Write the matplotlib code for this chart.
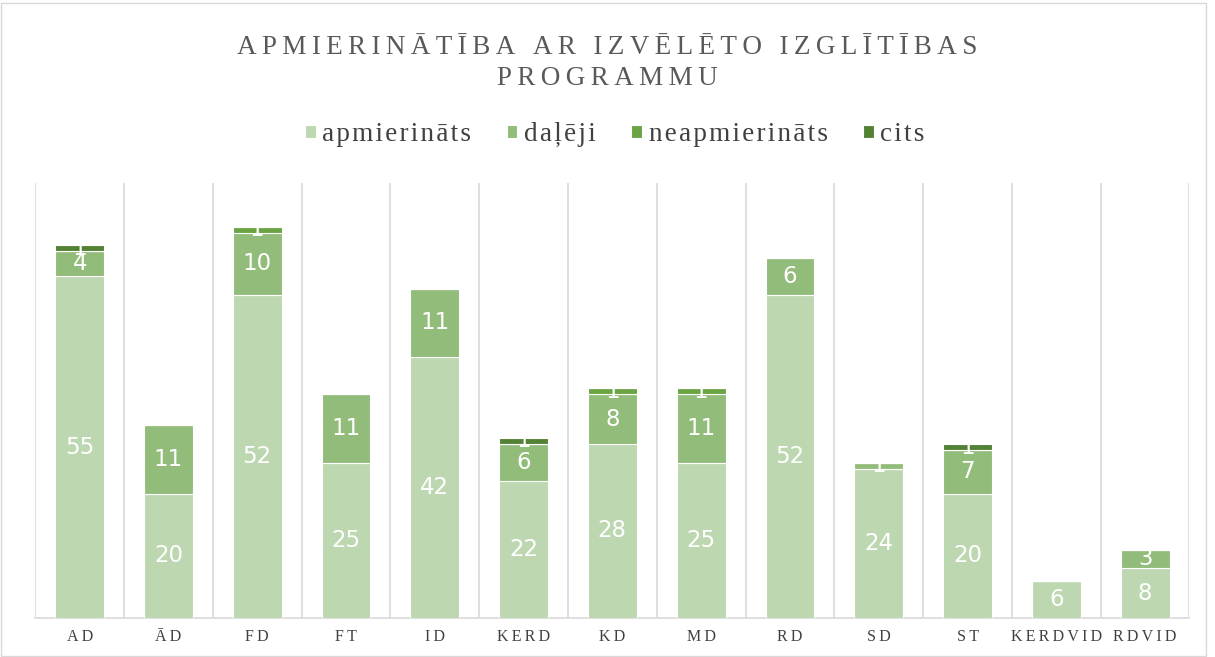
import matplotlib
matplotlib.use("Agg")
import matplotlib.pyplot as plt
import numpy as np
from matplotlib.patches import Rectangle

categories = ["AD", "ĀD", "FD", "FT", "ID", "KERD", "KD", "MD", "RD", "SD", "ST", "KERDVID", "RDVID"]
apmierinats = [55, 20, 52, 25, 42, 22, 28, 25, 52, 24, 20, 6, 8]
daleji = [4, 11, 10, 11, 11, 6, 8, 11, 6, 1, 7, 0, 3]
neapmierinats = [0, 0, 1, 0, 0, 0, 1, 1, 0, 0, 0, 0, 0]
cits = [1, 0, 0, 0, 0, 1, 0, 0, 0, 0, 1, 0, 0]
series_names = ["apmierināts", "daļēji", "neapmierināts", "cits"]
title_lines = ["APMIERINĀTĪBA AR IZVĒLĒTO IZGLĪTĪBAS", "PROGRAMMU"]
colors = ["#BDD7B1", "#92BC79", "#6BA543", "#548235"]

SERIF = ["Liberation Serif", "DejaVu Serif"]


def spaced(s, sep="\u2009"):
    return sep.join(s)


fig = plt.figure(figsize=(12.15, 6.57), dpi=100)
ax = fig.add_axes([0.029, 0.0594, 0.950, 0.662])

x = np.arange(len(categories))
bottom = np.zeros(len(categories))
handles = []
for vals, name, col in zip([apmierinats, daleji, neapmierinats, cits], series_names, colors):
    vals = np.array(vals, dtype=float)
    bars = ax.bar(x, vals, 0.55, bottom=bottom, color=col, edgecolor="white", linewidth=0.8, label=name, zorder=3)
    handles.append(bars)
    for xi, v, b in zip(x, vals, bottom):
        if v > 0:
            ax.text(xi, b + v / 2, f"{int(v)}", ha="center", va="center", color="white",
                    fontsize=16.5, family="DejaVu Sans", zorder=5)
    bottom += vals

ax.set_xlim(-0.5, len(categories) - 0.5)
ax.set_ylim(0, 70)
ax.set_yticks([])
ax.set_xticks(x)
ax.set_xticklabels([spaced(c) for c in categories], family=SERIF, fontsize=11.5, color="#404040")
ax.tick_params(axis="x", length=0, pad=8)
ax.set_xticks(np.arange(-0.5, len(categories)), minor=True)
ax.tick_params(axis="x", which="minor", length=0)
ax.grid(axis="x", which="minor", color="#D9D9D9", linewidth=1.2, zorder=0)
for s in ["top", "right", "left"]:
    ax.spines[s].set_visible(False)
ax.spines["bottom"].set_color("#D9D9D9")
ax.spines["bottom"].set_linewidth(1.2)

fig.text(0.5, 0.928, spaced(title_lines[0]), ha="center", va="center", family=SERIF, fontsize=19.5, color="#595959")
fig.text(0.5, 0.881, spaced(title_lines[1]), ha="center", va="center", family=SERIF, fontsize=19.5, color="#595959")

leg = fig.legend(handles=handles, labels=[spaced(n, "\u200a") for n in series_names], loc="center",
                 bbox_to_anchor=(0.506, 0.795), ncol=4, frameon=False,
                 prop={"family": SERIF, "size": 19.5}, handlelength=0.4, handleheight=0.4,
                 handletextpad=0.25, columnspacing=1.3)
for t in leg.get_texts():
    t.set_color("#404040")

fig.patches.append(Rectangle((0.001, 0.001), 0.992, 0.995, transform=fig.transFigure, fill=False,
                             edgecolor="#D9D9D9", linewidth=1))

fig.savefig("out.png", dpi=100)
